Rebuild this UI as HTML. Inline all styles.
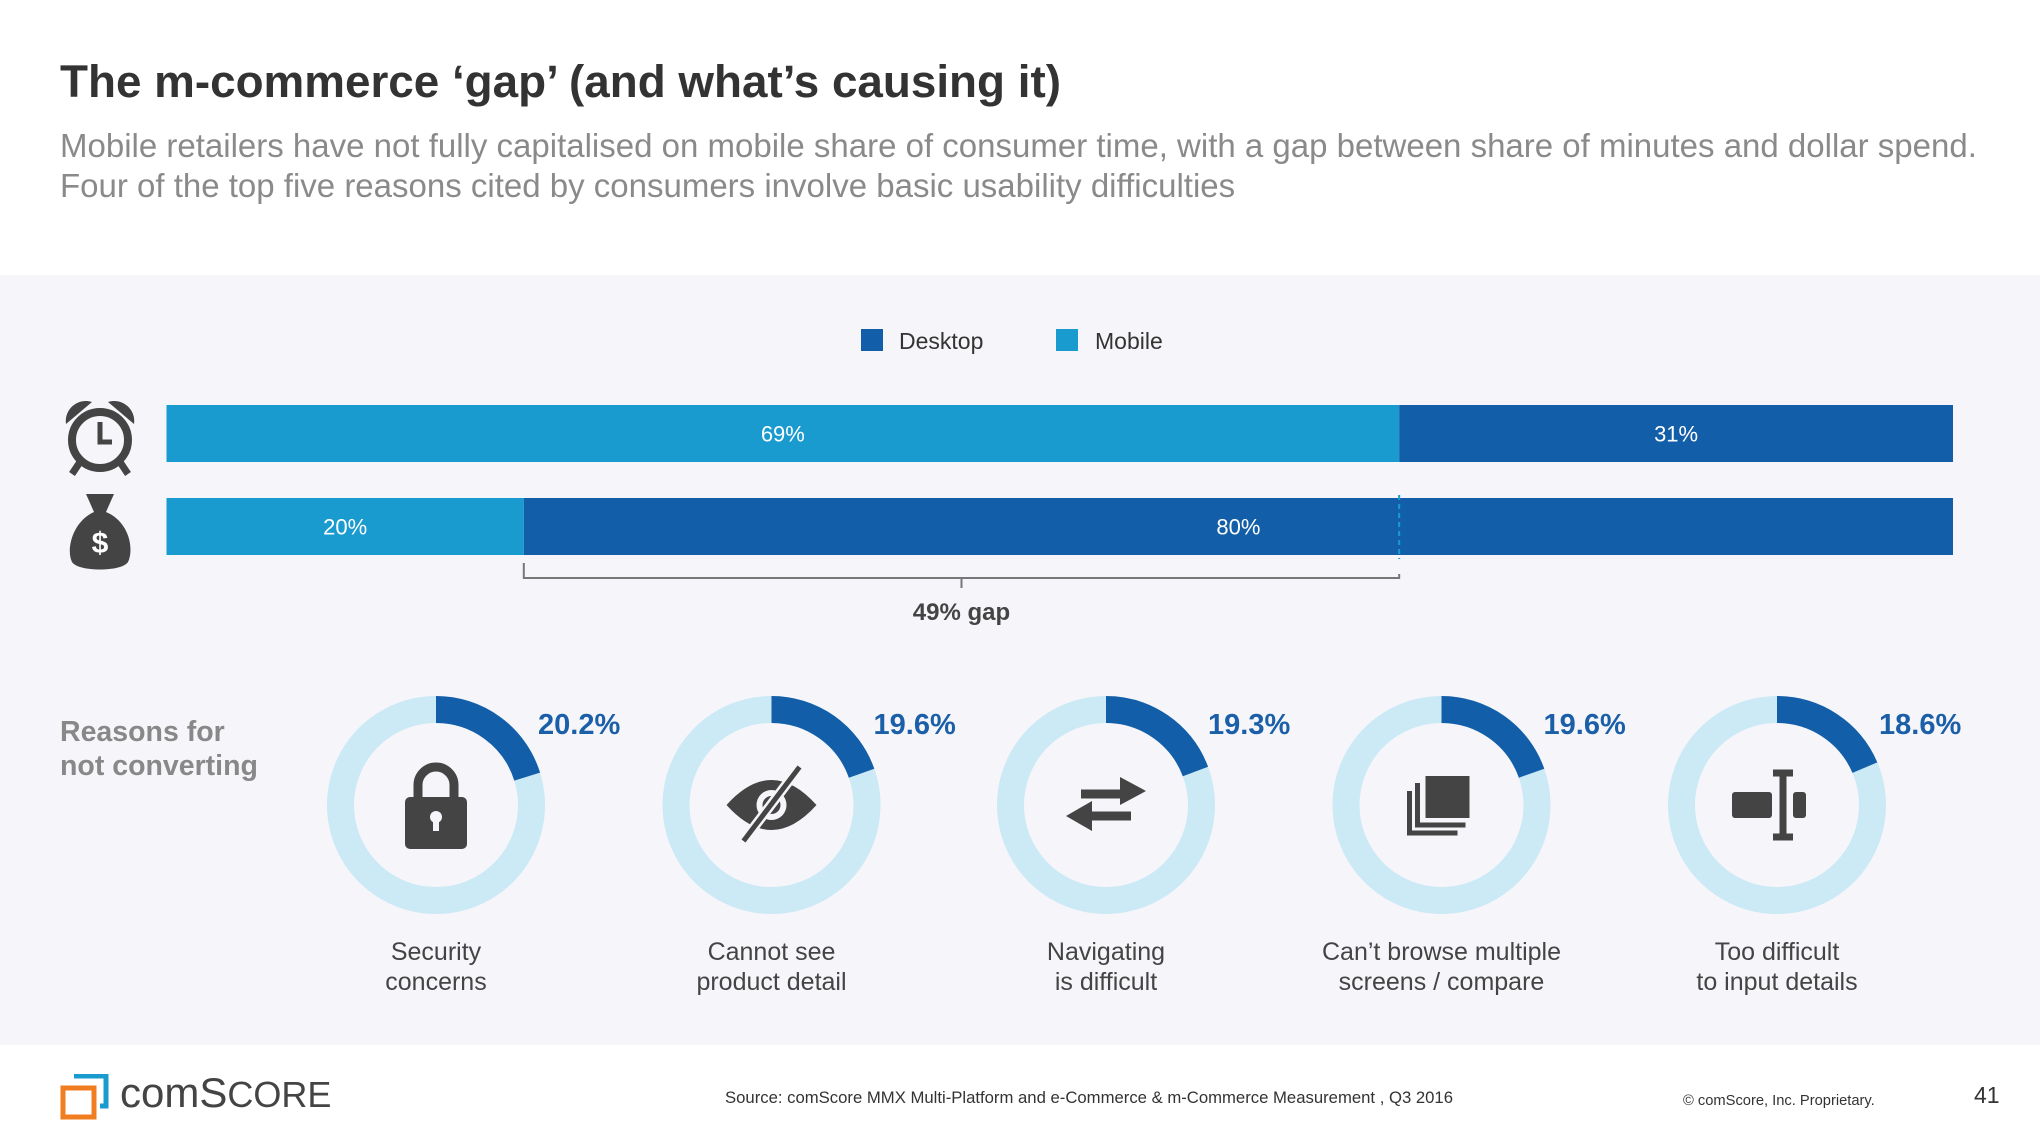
<!DOCTYPE html>
<html><head><meta charset="utf-8"><style>
*{margin:0;padding:0;box-sizing:border-box}
body{width:2040px;height:1148px;background:#fff;font-family:"Liberation Sans",sans-serif;position:relative;overflow:hidden}
.abs{position:absolute;white-space:nowrap}
</style></head><body>
<div class="abs" style="left:60px;top:56px;font-size:45.8px;font-weight:bold;color:#333">The m-commerce ‘gap’ (and what’s causing it)</div>
<div class="abs" style="left:60px;top:126px;font-size:33px;line-height:40px;color:#8a8a8a">Mobile retailers have not fully capitalised on mobile share of consumer time, with a gap between share of minutes and dollar spend.<br>Four of the top five reasons cited by consumers involve basic usability difficulties</div>
<div class="abs" style="left:0;top:275px;width:2040px;height:770px;background:#f6f6fa"></div>
<svg id="chart" class="abs" style="left:0;top:0" width="2040" height="1148"></svg>
<div class="abs" style="left:60px;top:715px;font-size:28.5px;line-height:34px;font-weight:bold;color:#888">Reasons for<br>not converting</div>
<svg class="abs" style="left:60px;top:1074px" width="50" height="46">
<path d="M14 2 H46 V32 H40" fill="none" stroke="#1a9bd0" stroke-width="5"/>
<path d="M3 14 H34 V43 H3 Z" fill="none" stroke="#f07d1f" stroke-width="5"/>
</svg>
<div class="abs" style="left:120px;top:1069px;font-size:42px;color:#444;letter-spacing:0px">comS<span style="font-size:36px">CORE</span></div>
<div class="abs" style="left:725px;top:1088px;font-size:16.7px;color:#333">Source: comScore MMX Multi-Platform and e-Commerce &amp; m-Commerce Measurement , Q3 2016</div>
<div class="abs" style="left:1683px;top:1093px;font-size:14.7px;color:#333">© comScore, Inc. Proprietary.</div>
<div class="abs" style="left:1974px;top:1082px;font-size:23px;color:#333">41</div>
<script>
const rows = ["time","spend"];
const mobileShare = [69, 20];
const desktopShare = [31, 80];
const reasons = ["Security|concerns","Cannot see|product detail","Navigating|is difficult","Can’t browse multiple|screens / compare","Too difficult|to input details"];
const reasonValues = [20.2, 19.6, 19.3, 19.6, 18.6];
const gapValue = 49;

const NS="http://www.w3.org/2000/svg";
const svg=document.getElementById('chart');
function mk(tag,attrs,parent){const e=document.createElementNS(NS,tag);for(const k in attrs)e.setAttribute(k,attrs[k]);(parent||svg).appendChild(e);return e;}
const X0=166.5,X1=1953;
const xs=v=>X0+(X1-X0)*v/100;
const rowY=[405,498], BH=57;
const MOB="#1a9bd0", DESK="#125ea8";

let r=mk('rect',{x:861,y:329,width:22,height:22,fill:DESK});


let t=mk('text',{x:899,y:349,'font-size':23,fill:'#333'});t.textContent='Desktop';


r=mk('rect',{x:1056,y:329,width:22,height:22,fill:MOB});


t=mk('text',{x:1095,y:349,'font-size':23,fill:'#333'});t.textContent='Mobile';



rows.forEach((row,i)=>{
  const y=rowY[i];
  const m=mk('rect',{x:xs(0),y:y,width:xs(mobileShare[i])-xs(0),height:BH,fill:MOB});
  
  
  const d=mk('rect',{x:xs(mobileShare[i]),y:y,width:xs(mobileShare[i]+desktopShare[i])-xs(mobileShare[i]),height:BH,fill:DESK});
  
  
  const l1=mk('text',{x:(xs(0)+xs(mobileShare[i]))/2,y:y+BH/2+8,'font-size':22,fill:'#fff','text-anchor':'middle'});
  l1.textContent=mobileShare[i]+'%';
  
  
  const l2=mk('text',{x:(xs(mobileShare[i])+xs(100))/2,y:y+BH/2+8,'font-size':22,fill:'#fff','text-anchor':'middle'});
  l2.textContent=desktopShare[i]+'%';
  
  
});
const gx=xs(mobileShare[0]);
let dl=mk('line',{x1:gx,y1:rowY[1]-3,x2:gx,y2:rowY[1]+BH+4,stroke:MOB,'stroke-width':2,'stroke-dasharray':'5,4'});


const bx0=xs(mobileShare[1]), bx1=xs(mobileShare[1]+gapValue), by=578;
let br=mk('path',{d:`M${bx0} ${by-15} V${by} H${bx1} V${by-4} M${(bx0+bx1)/2} ${by} V${by+10}`,fill:'none',stroke:'#777','stroke-width':2});


let gl=mk('text',{x:(bx0+bx1)/2,y:620,'font-size':24,'font-weight':'bold',fill:'#444','text-anchor':'middle'});
gl.textContent=gapValue+'% gap';



const g1=mk('g',{fill:'#444'});


mk('circle',{cx:100,cy:440,r:28,fill:'none',stroke:'#444','stroke-width':8},g1);
mk('path',{d:'M66 424 A20 20 0 0 1 92 402 Z',fill:'#444'},g1);
mk('path',{d:'M134 424 A20 20 0 0 0 108 402 Z',fill:'#444'},g1);
mk('path',{d:'M100 422 V442 H112',fill:'none',stroke:'#444','stroke-width':5},g1);
mk('path',{d:'M80 462 L72 474 M120 462 L128 474',stroke:'#444','stroke-width':7},g1);
const g2=mk('g',{fill:'#444'});


mk('path',{d:'M86 494 L114 494 L106 512 C130 522 134 550 128 562 C122 572 78 572 72 562 C66 550 72 522 94 512 Z'},g2);
const ds=mk('text',{x:100,y:553,'font-size':30,'font-weight':'bold',fill:'#fff','text-anchor':'middle'},g2);ds.textContent='$';

const cxs=[436,771.5,1106,1441.5,1777], cy=805, R=95.5, SW=27;
const icons=[
 c=>`<path d="M${c-18} ${cy-6} V${cy-20} A18 18 0 0 1 ${c+18} ${cy-20} V${cy-6}" fill="none" stroke="#444" stroke-width="9"/><rect x="${c-31}" y="${cy-8}" width="62" height="52" rx="5" fill="#444"/><circle cx="${c}" cy="${cy+12}" r="6" fill="#f6f6fa"/><rect x="${c-3}" y="${cy+12}" width="6" height="14" fill="#f6f6fa"/>`,
 c=>`<path d="M${c-45} ${cy} Q${c} ${cy-50} ${c+45} ${cy} Q${c} ${cy+50} ${c-45} ${cy} Z" fill="#444"/><circle cx="${c}" cy="${cy}" r="15" fill="#f6f6fa"/><circle cx="${c}" cy="${cy}" r="9" fill="#444"/><line x1="${c-28}" y1="${cy+36}" x2="${c+28}" y2="${cy-38}" stroke="#f6f6fa" stroke-width="10"/><line x1="${c-28}" y1="${cy+36}" x2="${c+28}" y2="${cy-38}" stroke="#444" stroke-width="5"/>`,
 c=>`<path d="M${c-25} ${cy-11} H${c+22}" stroke="#444" stroke-width="9"/><path d="M${c+14} ${cy-28} L${c+40} ${cy-14} L${c+14} ${cy+0} Z" fill="#444"/><path d="M${c+25} ${cy+11} H${c-22}" stroke="#444" stroke-width="9"/><path d="M${c-14} ${cy-4} L${c-40} ${cy+11} L${c-14} ${cy+26} Z" fill="#444"/>`,
 c=>`<rect x="${c-16}" y="${cy-29}" width="44" height="42" fill="#444"/><path d="M${c-24} ${cy-22} V${cy+20} H${c+24}" fill="none" stroke="#444" stroke-width="5"/><path d="M${c-32} ${cy-14} V${cy+28} H${c+16}" fill="none" stroke="#444" stroke-width="5"/>`,
 c=>`<rect x="${c-45}" y="${cy-13}" width="40" height="26" rx="3" fill="#444"/><rect x="${c+16}" y="${cy-13}" width="13" height="26" rx="3" fill="#444"/><path d="M${c-4} ${cy-32} H${c+16} M${c+6} ${cy-32} V${cy+32} M${c-4} ${cy+32} H${c+16}" stroke="#444" stroke-width="7" fill="none"/>`
];
reasonValues.forEach((v,i)=>{
  const c=cxs[i];
  const g=mk('g',{});
  
  
  mk('circle',{cx:c,cy:cy,r:R,fill:'none',stroke:'#cce9f6','stroke-width':SW},g);
  const a=v/100*2*Math.PI;
  const ex=c+R*Math.sin(a), ey=cy-R*Math.cos(a);
  const arc=mk('path',{d:`M${c} ${cy-R} A${R} ${R} 0 ${v>50?1:0} 1 ${ex} ${ey}`,fill:'none',stroke:'#135ea8','stroke-width':SW},g);
  
  
  const ig=mk('g',{},g);ig.innerHTML=icons[i](c);
  
  
  const pt=mk('text',{x:c+102,y:734,'font-size':29,'font-weight':'bold',fill:'#1a5fa8'},g);
  pt.textContent=v.toFixed(1)+'%';
  
  
  const lines=reasons[i].split('|');
  lines.forEach((ln,j)=>{
    const lt=mk('text',{x:c,y:960+j*30,'font-size':25,fill:'#444','text-anchor':'middle'},g);
    lt.textContent=ln;
    
    
  });
});
</script>
</body></html>
